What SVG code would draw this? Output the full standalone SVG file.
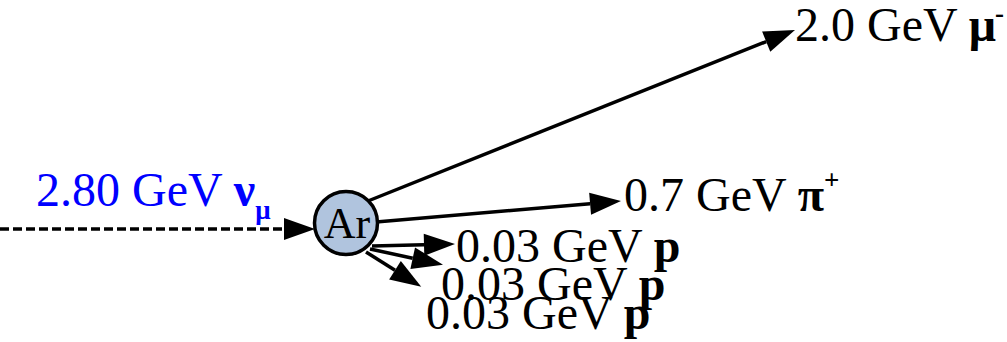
<svg xmlns="http://www.w3.org/2000/svg" width="1007" height="342" viewBox="0 0 1007 342">
<style>
text{font-family:"Liberation Serif","Times New Roman",serif;font-size:48px;fill:#000}
.b{font-weight:bold}
.s{font-size:27px;font-weight:bold}
.e{stroke:#000;stroke-width:3.5;fill:none}
</style>
<defs>
<marker id="ah" markerUnits="userSpaceOnUse" markerWidth="34" markerHeight="24" refX="0" refY="11" orient="auto" overflow="visible">
<path d="M0,0 L31,11 L0,22 Z" fill="#000"/>
</marker>
</defs>
<rect width="1007" height="342" fill="#fff"/>
<g id="connectors">
<line class="e" x1="0" y1="229" x2="284" y2="229" stroke-dasharray="9,4" marker-end="url(#ah)"/>
<line class="e" x1="368" y1="201" x2="766.2" y2="41.6" marker-end="url(#ah)"/>
<line class="e" x1="376" y1="222" x2="590.1" y2="203.7" marker-end="url(#ah)"/>
<line class="e" x1="372" y1="246" x2="424" y2="244.7" marker-end="url(#ah)"/>
<line class="e" x1="370" y1="249" x2="412.7" y2="258.2" marker-end="url(#ah)"/>
<line class="e" x1="366" y1="252" x2="395" y2="270.2" marker-end="url(#ah)"/>
</g>
<g id="nu">
<text x="36" y="206" style="fill:#0000ff">2.80 GeV <tspan class="b" style="fill:#0000ff">ν</tspan><tspan class="s" dy="13" style="fill:#0000ff">μ</tspan></text>
</g>
<g id="Ar">
<circle cx="346" cy="223" r="31.5" fill="#b0c4de" stroke="#000" stroke-width="3.5"/>
<text x="347" y="238" text-anchor="middle" style="font-size:44px">Ar</text>
</g>
<g id="muon">
<text x="795" y="41">2.0 GeV <tspan class="b">μ</tspan><tspan class="s" x="995" y="22">-</tspan></text>
</g>
<g id="pion">
<text x="624" y="211">0.7 GeV <tspan class="b">π</tspan><tspan class="s" dy="-22">+</tspan></text>
</g>
<g id="p1">
<text x="456" y="262">0.03 GeV <tspan class="b">p</tspan></text>
</g>
<g id="p2">
<text x="441" y="300">0.03 GeV <tspan class="b">p</tspan></text>
</g>
<g id="p3">
<text x="426" y="329">0.03 GeV <tspan class="b">p</tspan></text>
</g>
</svg>
